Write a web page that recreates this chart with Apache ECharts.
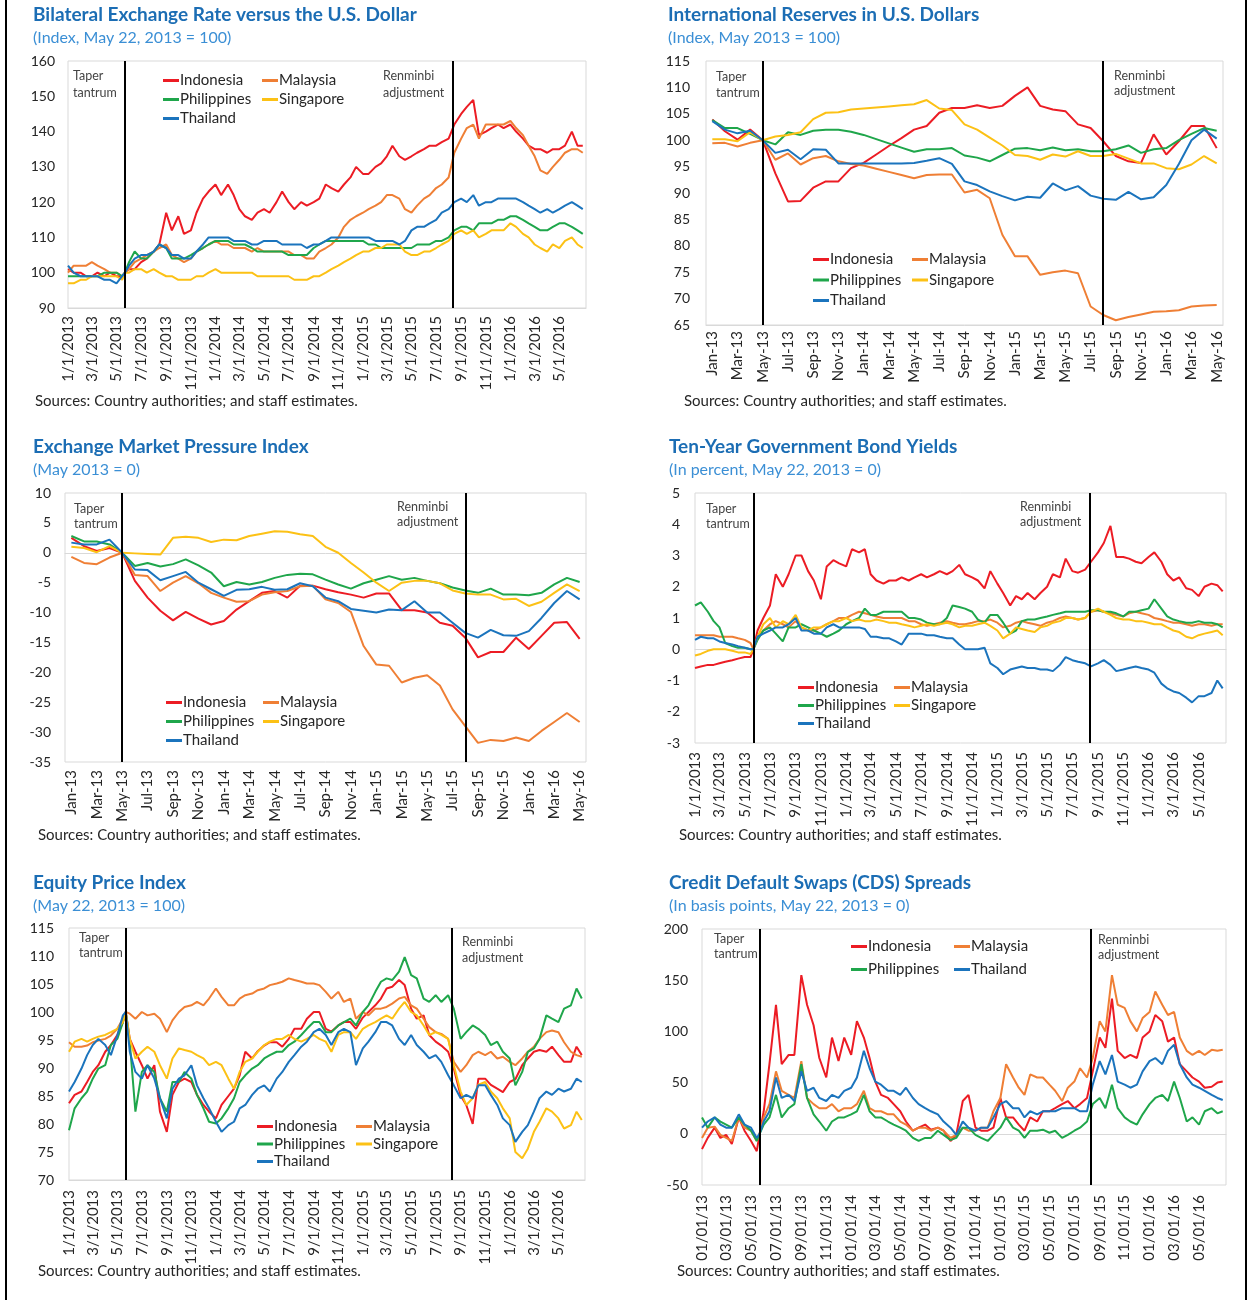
<!DOCTYPE html>
<html>
<head>
<meta charset="utf-8">
<title>ASEAN-5 market indicators</title>
<script src="https://cdn.jsdelivr.net/npm/echarts@6.0.0/dist/echarts.min.js"></script>
<style>
  html, body { margin: 0; padding: 0; background: #fff; }
  #chart { width: 1248px; height: 1300px; }
</style>
</head>
<body>
<div id="chart"></div>
<script>
const dates = [
  '2013-01-01','2013-01-15','2013-02-01','2013-02-15','2013-03-01','2013-03-15','2013-04-01','2013-04-15','2013-05-01','2013-05-15','2013-05-22',
  '2013-06-01','2013-06-15','2013-07-01','2013-07-15','2013-08-01','2013-08-15','2013-09-01','2013-09-15','2013-10-01','2013-10-15','2013-11-01','2013-11-15','2013-12-01','2013-12-15',
  '2014-01-01','2014-01-15','2014-02-01','2014-02-15','2014-03-01','2014-03-15','2014-04-01','2014-04-15','2014-05-01','2014-05-15','2014-06-01','2014-06-15',
  '2014-07-01','2014-07-15','2014-08-01','2014-08-15','2014-09-01','2014-09-15','2014-10-01','2014-10-15','2014-11-01','2014-11-15','2014-12-01','2014-12-15',
  '2015-01-01','2015-01-15','2015-02-01','2015-02-15','2015-03-01','2015-03-15','2015-04-01','2015-04-15','2015-05-01','2015-05-15','2015-06-01','2015-06-15',
  '2015-07-01','2015-07-15','2015-08-01','2015-08-15','2015-09-01','2015-09-15','2015-10-01','2015-10-15','2015-11-01','2015-11-15','2015-12-01','2015-12-15',
  '2016-01-01','2016-01-15','2016-02-01','2016-02-15','2016-03-01','2016-03-15','2016-04-01','2016-04-15','2016-05-01','2016-05-15','2016-06-01','2016-06-15','2016-06-28'
];
const dailyTicks = [
  '2013-01-01','2013-03-01','2013-05-01','2013-07-01','2013-09-01','2013-11-01',
  '2014-01-01','2014-03-01','2014-05-01','2014-07-01','2014-09-01','2014-11-01',
  '2015-01-01','2015-03-01','2015-05-01','2015-07-01','2015-09-01','2015-11-01',
  '2016-01-01','2016-03-01','2016-05-01'
];
const months = [
  'Jan-13','Feb-13','Mar-13','Apr-13','May-13','Jun-13','Jul-13','Aug-13','Sep-13','Oct-13','Nov-13','Dec-13',
  'Jan-14','Feb-14','Mar-14','Apr-14','May-14','Jun-14','Jul-14','Aug-14','Sep-14','Oct-14','Nov-14','Dec-14',
  'Jan-15','Feb-15','Mar-15','Apr-15','May-15','Jun-15','Jul-15','Aug-15','Sep-15','Oct-15','Nov-15','Dec-15',
  'Jan-16','Feb-16','Mar-16','Apr-16','May-16'
];
const events = ['2013-05-22', '2015-08-11'];
const eventMonths = ['May-13', 'Aug-15'];
const axisStart = '2013-01-01';
const axisEnd = '2016-07-06';

// bilateral exchange rate vs USD
const fxIdn = [101,100,100,99,99,100,99,100,99,99,100,101,101,103,104,106,108,117,112,116,111,112,117,121,123,
  125,122,125,122,118,116,115,117,118,117,120,123,120,118,120,119,120,121,125,124,123,125,127,130,
  128,128,130,131,133,136,133,132,133,134,135,136,136,137,138,142,145,147,149,139,140,141,142,141,
  142,140,138,136,135,135,134,135,135,136,140,136,136];
const fxMys = [100,102,102,102,103,102,101,100,100,99,100,101,103,104,105,106,107,108,105,104,103,104,106,107,108,
  109,108,108,107,107,107,106,107,106,106,106,106,106,105,105,104,104,106,107,108,110,113,115,116,
  117,118,119,120,122,122,121,118,117,119,121,122,124,125,127,134,138,141,142,138,142,142,142,142,
  143,141,139,136,133,129,128,130,132,134,135,135,134];
const fxPhl = [99,99,99,99,99,99,100,100,100,99,100,103,106,104,104,106,108,107,104,104,104,105,106,107,108,
  109,109,109,108,108,108,107,106,106,106,106,106,105,105,105,105,107,108,109,109,109,109,109,109,
  109,108,108,107,107,107,107,107,107,108,108,108,109,109,110,112,113,113,112,114,114,114,115,115,
  116,116,115,114,113,112,112,113,114,114,113,112,111];
const fxSgp = [97,97,98,98,99,99,99,99,99,98,100,100,101,101,100,101,100,99,99,98,98,98,99,99,100,
  101,100,100,100,100,100,100,99,99,99,99,99,99,98,98,98,99,99,100,101,102,103,104,105,
  106,106,107,107,108,108,108,106,105,105,106,106,107,108,109,111,112,111,112,110,111,112,112,112,
  114,113,111,110,108,107,106,108,107,109,110,108,107];
const fxTha = [102,100,99,99,99,99,98,98,97,99,100,102,104,105,105,106,108,107,105,105,104,104,106,108,110,
  110,110,110,109,109,109,108,108,109,109,109,108,108,108,108,107,108,108,109,110,110,110,110,110,
  110,110,109,109,109,109,108,109,112,113,113,114,115,117,118,120,121,120,122,119,120,120,121,121,
  121,121,120,119,118,117,118,117,118,119,120,119,118];

// international reserves, monthly
const resIdn = [103.9,101.7,100.1,102,100,93.7,88.4,88.5,91,92.2,92.2,94.7,95.7,97.3,98.9,100.4,102,102.7,105.2,106.1,
  106.1,106.6,106.1,106.5,108.4,110,106.5,105.8,105.5,103,102.3,99.8,97,96,95.7,101.1,97.3,99.8,102.7,102.7,98.5];
const resMys = [99.4,99.5,98.8,99.5,100,96.3,97.5,95.4,96.6,97,96,95.5,95.2,94.6,94,93.4,92.8,93.4,93.5,93.5,
  90.1,90.6,89,82.1,78,78,74.5,75,75.3,74.8,68.5,66.9,65.9,66.5,67,67.5,67.6,67.8,68.5,68.7,68.8];
const resPhl = [103.8,102.3,102.3,101.2,100,99.2,101.5,101,101.8,102,102,101.6,101,100.2,99.4,98.6,97.8,98.3,98.3,98.5,
  97.1,96.7,96,97.2,98.4,98.5,98.1,98.6,98.1,98.3,97.9,97.9,98.3,99,97.6,98.3,98.5,100,101.2,102.3,101.8];
const resSgp = [100.2,100.2,99.8,101.5,100,100.7,101,101.5,104,105.2,105.3,105.8,106,106.2,106.4,106.6,106.8,107.6,106,105.7,
  103,102,100.5,99,97.2,97,96.3,97.3,96.9,97.9,97,97,97.4,96.5,95.6,95.6,94.7,94.5,95.4,97,95.6];
const resTha = [103.6,102,101.3,101.8,100,97.6,98.2,96.4,98.3,98.2,95.6,95.6,95.6,95.6,95.6,95.6,95.7,96.1,96.6,95.5,
  92.2,91.5,90.3,89.4,88.6,89.3,89.1,91.8,90.5,91.3,89.5,88.9,88.7,90.2,88.8,89.2,91.5,95.5,100,102,100.3];

// exchange market pressure, monthly
const empIdn = [2.5,1.1,0.3,0.8,0,-4.7,-7.5,-9.7,-11.3,-9.9,-11,-12,-11.4,-9.5,-8.1,-6.7,-6.4,-7.5,-5.5,-5.5,
  -6.1,-6.6,-7,-7.5,-6.8,-6.8,-9.6,-9.6,-10,-11.7,-12.2,-14.2,-17.5,-16.6,-16.6,-14.2,-16.1,-13.9,-11.7,-11.6,-14.4];
const empMys = [-0.7,-1.7,-1.9,-0.8,0,-3.7,-3.9,-6.4,-5,-3.9,-5.1,-6.7,-7.5,-8.2,-8.1,-7,-6.6,-6.4,-5.6,-5.5,
  -7.8,-8.4,-9.9,-15.6,-18.7,-18.9,-21.7,-20.9,-20.5,-22.2,-26.2,-29,-31.8,-31.3,-31.5,-30.9,-31.5,-29.8,-28.3,-26.8,-28.3];
const empPhl = [2.8,1.9,1.9,1.4,0,-2.2,-1.7,-2.3,-1.9,-1.1,-2.1,-3.3,-5.6,-4.9,-5.3,-4.9,-4.2,-3.7,-3.5,-3.6,
  -4.5,-5.3,-6,-5.1,-4.5,-3.9,-4.5,-4.2,-4.7,-5.1,-5.8,-6.3,-6.7,-6,-7,-7,-7.1,-6.7,-5.3,-4.2,-4.9];
const empSgp = [1,0.8,0.1,1.1,0,-0.1,-0.2,-0.3,2.5,2.7,2.5,1.8,2.2,2.1,2.8,3.2,3.6,3.5,3.1,2.8,
  1.0,0,-1.7,-3.3,-5,-6.4,-5,-4.7,-4.7,-5.1,-6.3,-6.8,-7,-7,-7.8,-7.7,-8.9,-8.2,-6.7,-5.3,-6.4];
const empTha = [1.7,1.4,1.4,2.2,0,-2.8,-2.9,-4.6,-3.9,-3.2,-5,-6.1,-7.2,-6.2,-6.1,-5.7,-6.2,-6.1,-5.1,-5.6,
  -7.5,-8.1,-9.4,-9.7,-10,-9.5,-9.6,-8.1,-10,-10,-11.7,-13.4,-14.2,-12.9,-13.8,-13.9,-13.1,-10.9,-8.4,-6.4,-7.8];

// ten-year bond yields, change since May 22 2013
const bondIdn = [-0.6,-0.55,-0.5,-0.5,-0.45,-0.4,-0.35,-0.3,-0.25,-0.25,0,0.6,1.0,1.4,2.4,2.0,2.4,3.0,3.0,2.5,2.2,1.6,2.65,2.85,2.75,
  2.65,3.2,3.1,3.2,2.4,2.2,2.1,2.2,2.2,2.3,2.2,2.3,2.4,2.3,2.4,2.5,2.4,2.5,2.7,2.4,2.3,2.2,1.95,2.5,
  2.1,1.8,1.4,1.7,1.6,1.8,1.6,1.8,2.0,2.4,2.3,2.9,2.5,2.45,2.55,2.8,3.1,3.4,3.95,2.95,2.95,2.9,2.8,2.75,
  2.95,3.1,2.8,2.4,2.2,2.3,1.95,1.9,1.7,2.0,2.1,2.05,1.85];
const bondMys = [0.45,0.45,0.45,0.45,0.4,0.4,0.4,0.35,0.3,0.2,0,0.4,0.6,0.8,0.9,0.8,0.7,0.9,0.7,0.6,0.6,0.7,0.8,0.9,1.0,
  1.0,1.1,1.2,1.15,1.1,1.05,1.0,1.0,1.0,1.0,0.9,0.9,0.8,0.75,0.8,0.85,0.9,0.85,0.8,0.8,0.85,0.9,0.9,0.95,
  0.85,0.7,0.75,0.85,0.9,0.85,0.8,0.75,0.85,0.9,1.0,1.05,1.0,0.95,1.0,1.2,1.25,1.2,1.15,1.1,1.05,1.15,1.2,1.15,
  1.1,1.0,0.95,0.9,0.85,0.85,0.8,0.75,0.8,0.8,0.75,0.8,0.8];
const bondPhl = [1.4,1.5,1.2,0.9,0.7,0.2,0.1,0.05,0.05,0.0,0,0.3,0.6,0.7,0.5,0.25,0.7,0.7,0.8,0.7,0.6,0.5,0.4,0.5,0.6,
  0.8,0.9,1.0,1.3,1.1,1.1,1.2,1.2,1.2,1.2,1.0,1.0,0.95,0.85,0.8,0.8,1.0,1.4,1.35,1.3,1.2,0.95,0.85,1.1,
  1.1,0.85,0.5,0.6,0.9,0.95,0.95,1.0,1.05,1.1,1.15,1.2,1.2,1.2,1.2,1.25,1.25,1.2,1.2,1.15,1.05,1.2,1.2,1.25,
  1.3,1.6,1.3,1.05,0.95,0.9,0.85,0.85,0.9,0.85,0.85,0.8,0.7];
const bondSgp = [-0.2,-0.15,-0.05,0.0,0.0,0.0,-0.05,-0.1,-0.1,-0.15,0,0.4,0.8,1.0,0.7,0.9,0.8,1.1,0.7,0.6,0.7,0.7,0.8,0.9,0.9,
  1.0,0.9,0.95,0.9,0.9,0.95,0.9,0.85,0.85,0.8,0.75,0.7,0.75,0.8,0.75,0.8,0.85,0.8,0.7,0.75,0.75,0.8,0.85,0.75,
  0.6,0.35,0.5,0.7,0.65,0.6,0.55,0.7,0.75,0.85,0.9,1.0,1.0,0.95,1.0,1.2,1.3,1.2,1.1,1.0,0.95,0.95,0.9,0.9,
  0.85,0.8,0.8,0.7,0.6,0.55,0.4,0.35,0.45,0.5,0.55,0.6,0.45];
const bondTha = [0.3,0.4,0.35,0.35,0.25,0.2,0.15,0.1,0.05,0.0,0,0.4,0.5,0.6,0.7,0.7,0.8,1.0,0.6,0.6,0.5,0.5,0.7,0.8,0.7,
  0.7,0.7,0.7,0.65,0.4,0.4,0.35,0.35,0.25,0.15,0.5,0.5,0.5,0.45,0.45,0.4,0.35,0.35,0.15,0.0,0.0,0.0,0.05,-0.45,
  -0.6,-0.8,-0.65,-0.6,-0.55,-0.6,-0.6,-0.65,-0.65,-0.7,-0.5,-0.25,-0.35,-0.4,-0.45,-0.55,-0.45,-0.35,-0.5,-0.7,-0.65,-0.6,-0.55,-0.6,
  -0.65,-0.75,-1.1,-1.25,-1.35,-1.4,-1.55,-1.7,-1.5,-1.5,-1.4,-1.0,-1.25];

// equity price index
const eqIdn = [83.7,85.2,85.8,87.5,89.3,90.5,92.9,94.1,95.9,98.2,100,95.2,92.9,90.5,88.1,90.5,82.2,78.6,85.2,87.5,88.1,87.5,85.2,83.4,82.2,
  81,83.4,85,86.3,88.7,92.9,91.7,93,94,94.6,94.6,93.8,95.2,97,97,98.8,100,100,97,96.5,97.6,98.2,98.2,97,
  99,100,101.2,102.4,104.2,104.5,105.7,104.8,100.6,98.8,99.4,95.9,94.7,94,92.9,89.9,85.1,83.4,80,88.1,88.1,87,86.3,85.7,
  87.5,88,90.5,91.7,92.9,93.2,92.9,93.8,92.3,91.1,91.1,93.8,92.3];
const eqMys = [94.6,93.8,93.8,94,94.6,94.9,95.2,95.8,97,98.8,100,99.7,98.8,100,99.4,99.7,98.8,96.4,98.5,100,100.9,101.2,101.8,101.2,102.4,
  104.2,102.7,101.2,101.2,102.4,103,103.3,103.9,104.2,104.8,105.1,105.4,106,105.7,105.4,105.1,105.1,104.8,103.6,102.4,103.6,101.8,102.4,98.8,
  100,99.4,100.6,100.6,100.9,101.5,102.4,102.7,101.2,100.6,98.8,97.3,96.4,96.1,95.2,91.1,89.3,90.5,92.3,92.9,92.3,92.9,91.7,92,
  91.1,90.5,91.7,92.9,93.8,95.2,96.4,96.7,96.4,94.6,92.9,92.3,92];
const eqPhl = [78.9,82.8,84.6,85.8,88.1,89.9,90.5,94.1,95.2,98.2,100,94.6,82.2,89.3,90.5,89.3,84.6,82.2,87.5,87.5,89.3,88.1,85.2,82.8,80.4,
  80.1,81,82.8,84.6,87.5,88.7,89.9,90.5,91.7,92.3,92.9,92.9,94.1,94.7,95.9,97,98.2,98.2,96.4,96.4,97.6,98.2,98.8,97.6,
  100,101.2,103.6,105.4,106,105.7,107.2,109.8,106.6,106,102.4,101.8,103,101.8,103,100.6,95.2,96.4,97.6,97,95.9,94.1,94.7,92.9,
  91.7,86.9,89.3,92.9,93.5,95.2,99.4,98.8,98.2,100.6,101.2,104.2,102.4];
const eqSgp = [92.9,94.7,95.2,94.7,95.2,95.6,95.9,96.4,97,98.2,100,95.2,91.7,92.9,93.8,92.9,90.5,88.1,91.7,93.5,93.2,92.9,92.3,91.7,90.5,
  91.1,90.5,88.1,86.3,89.3,91.1,91.7,92.9,94.1,94.7,95.2,95.2,95.9,95.2,94.7,95.2,95.9,95.2,94.7,92.9,95.9,96.4,96.4,95.2,
  97,97.6,98.2,98.8,99.4,98.8,100.6,101.8,100,99.4,97.6,95.9,96.4,95.9,95.2,90.5,85.8,83.4,84.6,87,87.5,85.8,84.6,82.8,
  81,75,73.9,75.6,78.6,80.4,82.8,82.2,81,79.2,79.8,82.2,80.7];
const eqTha = [85.8,87.5,89.9,92.3,94.1,95.2,94.1,92.3,95.8,99.4,100,92.9,89.3,88.1,90.5,88.1,84.6,81,86.3,88.1,88.7,90.5,86.9,84.6,82.8,
  80.4,78.6,79.8,80.4,82.8,83.4,85.2,86.3,86.9,85.8,88.1,89.3,91.1,92.3,93.8,94.7,96.4,97,95.9,94.1,96.4,97,96.4,90.5,
  93.5,94.7,96.4,98.2,98.2,97.6,95.2,94.1,95.9,94.1,92.9,91.7,92.3,91.1,88.7,86.9,84.6,85.2,84.6,86.9,86.9,85.2,83.4,81,
  79.8,76.8,78.6,79.8,82.2,84.6,85.8,85.2,86.3,85.8,86.3,88.1,87.5];

// CDS spreads, bp change since May 22 2013
const cdsIdn = [-15,-4,6,-4,-1,-10,16,3,-7,-17,0,22,68,126,68,77,77,155,126,106,74,55,94,71,94,
  77,110,94,74,51,38,35,29,22,12,3,6,9,4,6,3,-7,-1,32,38,6,3,3,6,
  35,16,16,9,3,16,12,22,22,25,29,32,25,29,35,61,94,84,132,81,74,77,74,94,
  100,116,110,90,94,68,61,55,51,45,46,50,51];
const cdsMys = [-4,6,7,-1,-4,-7,16,6,3,-7,0,16,29,61,42,38,35,71,35,29,25,25,29,22,25,
  25,29,42,25,22,22,19,19,12,9,3,6,6,3,6,3,-4,-1,6,3,3,6,6,22,
  35,68,55,45,38,58,55,55,48,42,32,45,51,64,55,74,110,100,155,126,123,110,100,113,
  119,139,126,116,119,94,81,77,81,77,82,81,82];
const cdsPhl = [16,6,16,12,9,6,16,9,3,-7,0,9,16,38,16,25,29,68,35,19,12,3,12,16,16,
  19,22,38,22,16,16,12,9,6,3,-4,-7,-4,-4,3,-1,-6,-4,6,6,-1,-4,-7,-1,
  6,16,6,3,-4,3,3,4,1,3,-4,-1,3,6,12,29,35,25,48,25,16,12,9,19,
  29,35,38,32,51,35,12,16,9,22,25,20,22];
const cdsTha = [6,12,16,9,6,6,19,9,6,-4,0,12,22,55,35,38,32,61,42,45,35,32,38,35,42,
  45,55,81,64,51,48,42,42,38,45,35,29,25,22,19,12,6,-1,12,6,3,6,6,16,
  29,32,25,25,16,22,19,22,22,22,25,25,25,22,22,48,71,58,77,51,48,45,48,61,
  71,74,68,81,87,68,55,48,45,42,38,35,33];

const colors = {
  Indonesia: '#ec1c24', Malaysia: '#ef7f35', Philippines: '#1fa64b',
  Singapore: '#fcc115', Thailand: '#1b74bd'
};
const FONT = 'Lato, "Noto Sans", sans-serif';
const SOURCE = 'Sources: Country authorities; and staff estimates.';

function ts(s) {
  const p = s.split('-');
  return new Date(+p[0], +p[1] - 1, +p[2]).getTime();
}
function usDate(v) {
  const d = new Date(v);
  return (d.getMonth() + 1) + '/' + d.getDate() + '/' + d.getFullYear();
}
function cdsDate(v) {
  const d = new Date(v);
  const two = n => String(n).padStart(2, '0');
  return two(d.getMonth() + 1) + '/' + two(d.getDate()) + '/' + two(d.getFullYear() % 100);
}

const panels = [
  {
    title: 'Bilateral Exchange Rate versus the U.S. Dollar', sub: '(Index, May 22, 2013 = 100)', at: [33, 4],
    grid: { left: 68, top: 61, width: 518, height: 247 }, daily: true, fmt: usDate, xMargin: 8,
    y: [90, 160, 10], yMargin: 13,
    lines: { Indonesia: fxIdn, Malaysia: fxMys, Philippines: fxPhl, Singapore: fxSgp, Thailand: fxTha },
    cols: [['Indonesia', 'Philippines', 'Thailand'], ['Malaysia', 'Singapore']],
    legend: { left: [163, 262], top: 72, gap: 2 },
    notes: [[73, 76, 'Taper'], [73, 93, 'tantrum'], [383, 76, 'Renminbi'], [383, 93, 'adjustment']],
    source: [35, 401]
  },
  {
    title: 'International Reserves in U.S. Dollars', sub: '(Index, May 2013 = 100)', at: [668, 4],
    grid: { left: 706, top: 61, width: 517, height: 264 }, daily: false, xMargin: 6,
    y: [65, 115, 5], yMargin: 16,
    lines: { Indonesia: resIdn, Malaysia: resMys, Philippines: resPhl, Singapore: resSgp, Thailand: resTha },
    cols: [['Indonesia', 'Philippines', 'Thailand'], ['Malaysia', 'Singapore']],
    legend: { left: [813, 912], top: 251, gap: 3.5 },
    notes: [[716, 77, 'Taper'], [716, 93, 'tantrum'], [1114, 76, 'Renminbi'], [1114, 91, 'adjustment']],
    source: [684, 401]
  },
  {
    title: 'Exchange Market Pressure Index', sub: '(May 2013 = 0)', at: [33, 436],
    grid: { left: 65, top: 493, width: 521, height: 269 }, daily: false, xMargin: 8,
    y: [-35, 10, 5], yMargin: 14,
    lines: { Indonesia: empIdn, Malaysia: empMys, Philippines: empPhl, Singapore: empSgp, Thailand: empTha },
    cols: [['Indonesia', 'Philippines', 'Thailand'], ['Malaysia', 'Singapore']],
    legend: { left: [166, 263], top: 694, gap: 2 },
    notes: [[74, 509, 'Taper'], [74, 524, 'tantrum'], [397, 507, 'Renminbi'], [397, 522, 'adjustment']],
    source: [38, 835]
  },
  {
    title: 'Ten-Year Government Bond Yields', sub: '(In percent, May 22, 2013 = 0)', at: [669, 436],
    grid: { left: 695, top: 493, width: 531, height: 250 }, daily: true, fmt: usDate, xMargin: 9,
    y: [-3, 5, 1], yMargin: 15,
    lines: { Indonesia: bondIdn, Malaysia: bondMys, Philippines: bondPhl, Singapore: bondSgp, Thailand: bondTha },
    cols: [['Indonesia', 'Philippines', 'Thailand'], ['Malaysia', 'Singapore']],
    legend: { left: [798, 894], top: 679, gap: 1 },
    notes: [[706, 509, 'Taper'], [706, 524, 'tantrum'], [1020, 507, 'Renminbi'], [1020, 522, 'adjustment']],
    source: [679, 835]
  },
  {
    title: 'Equity Price Index', sub: '(May 22, 2013 = 100)', at: [33, 872],
    grid: { left: 69, top: 928, width: 516, height: 252 }, daily: true, fmt: usDate, xMargin: 10,
    y: [70, 115, 5], yMargin: 15,
    lines: { Indonesia: eqIdn, Malaysia: eqMys, Philippines: eqPhl, Singapore: eqSgp, Thailand: eqTha },
    cols: [['Indonesia', 'Philippines', 'Thailand'], ['Malaysia', 'Singapore']],
    legend: { left: [257, 356], top: 1118, gap: 0.5 },
    notes: [[79, 938, 'Taper'], [79, 953, 'tantrum'], [462, 942, 'Renminbi'], [462, 958, 'adjustment']],
    source: [38, 1271]
  },
  {
    title: 'Credit Default Swaps (CDS) Spreads', sub: '(In basis points, May 22, 2013 = 0)', at: [669, 872],
    grid: { left: 702, top: 929, width: 524, height: 256 }, daily: true, fmt: cdsDate, xMargin: 10,
    y: [-50, 200, 50], yMargin: 14,
    lines: { Indonesia: cdsIdn, Malaysia: cdsMys, Philippines: cdsPhl, Thailand: cdsTha },
    cols: [['Indonesia', 'Philippines'], ['Malaysia', 'Thailand']],
    legend: { left: [851, 954], top: 938, gap: 6 },
    notes: [[714, 939, 'Taper'], [714, 954, 'tantrum'], [1098, 940, 'Renminbi'], [1098, 955, 'adjustment']],
    source: [677, 1271]
  }
];

const option = {
  animation: false,
  backgroundColor: '#fff',
  textStyle: { fontFamily: FONT },
  title: [], grid: [], xAxis: [], yAxis: [], legend: [], series: [],
  graphic: [
    { type: 'line', shape: { x1: 6, y1: 0, x2: 6, y2: 1300 }, style: { stroke: '#000', lineWidth: 2 } },
    { type: 'line', shape: { x1: 1246, y1: 0, x2: 1246, y2: 1300 }, style: { stroke: '#000', lineWidth: 2 } }
  ]
};

panels.forEach((p, i) => {
  option.title.push({
    text: p.title, subtext: p.sub, left: p.at[0], top: p.at[1], padding: 0, itemGap: 2,
    textStyle: { fontSize: 19, lineHeight: 22, fontWeight: 'bold', color: '#1b6db4', fontFamily: FONT },
    subtextStyle: { fontSize: 16, lineHeight: 20, color: '#3b8fd5', fontFamily: FONT }
  });
  option.grid.push(Object.assign({ show: true, borderColor: '#d9d9d9', borderWidth: 1 }, p.grid));

  const xLabel = { rotate: 90, fontSize: 15, color: '#262626', margin: p.xMargin };
  const xLine = { show: true, onZero: true, lineStyle: { color: '#d9d9d9', width: 1 } };
  if (p.daily) {
    // plain value axis holding timestamps, labels every two months
    option.xAxis.push({
      type: 'value', gridIndex: i, min: ts(axisStart), max: ts(axisEnd),
      axisLine: xLine, axisTick: { show: false }, splitLine: { show: false },
      axisLabel: Object.assign(xLabel, { customValues: dailyTicks.map(ts), formatter: p.fmt })
    });
  } else {
    option.xAxis.push({
      type: 'category', gridIndex: i, data: months, boundaryGap: true,
      axisLine: xLine, axisTick: { show: false },
      axisLabel: Object.assign(xLabel, { interval: 1 })
    });
  }
  option.yAxis.push({
    type: 'value', gridIndex: i, min: p.y[0], max: p.y[1], interval: p.y[2],
    axisLine: { show: false }, axisTick: { show: false }, splitLine: { show: false },
    axisLabel: { fontSize: 14, color: '#262626', margin: p.yMargin }
  });

  const names = Object.keys(p.lines);
  names.forEach((name, k) => {
    const vals = p.lines[name];
    const s = {
      type: 'line', name: name, xAxisIndex: i, yAxisIndex: i,
      data: p.daily ? dates.map((d, j) => [ts(d), vals[j]]) : vals,
      symbol: 'none', color: colors[name], lineStyle: { width: 2 }
    };
    if (k === names.length - 1) {
      // taper tantrum and renminbi adjustment markers
      s.markLine = {
        silent: true, symbol: ['none', 'none'], label: { show: false },
        lineStyle: { color: '#000', width: 2, type: 'solid' },
        data: p.daily ? events.map(e => ({ xAxis: ts(e) })) : eventMonths.map(m => ({ xAxis: m }))
      };
    }
    option.series.push(s);
  });

  p.cols.forEach((col, c) => {
    option.legend.push({
      orient: 'vertical', left: p.legend.left[c], top: p.legend.top, itemGap: p.legend.gap,
      padding: 0, data: col, icon: 'rect', itemWidth: 16, itemHeight: 3, selectedMode: false,
      textStyle: { fontSize: 15, color: '#262626', lineHeight: 17, padding: [0, 0, 0, -4], fontFamily: FONT }
    });
  });

  p.notes.forEach(n => {
    option.graphic.push({
      type: 'text', x: n[0], y: n[1], silent: true,
      style: { text: n[2], fontSize: 12.5, fill: '#444', fontFamily: FONT, verticalAlign: 'middle' }
    });
  });
  option.graphic.push({
    type: 'text', x: p.source[0], y: p.source[1], silent: true,
    style: { text: SOURCE, fontSize: 15, fill: '#262626', fontFamily: FONT, verticalAlign: 'middle' }
  });
});

const chart = echarts.init(document.getElementById('chart'));
chart.setOption(option);
window.addEventListener('resize', () => chart.resize());
</script>
</body>
</html>
